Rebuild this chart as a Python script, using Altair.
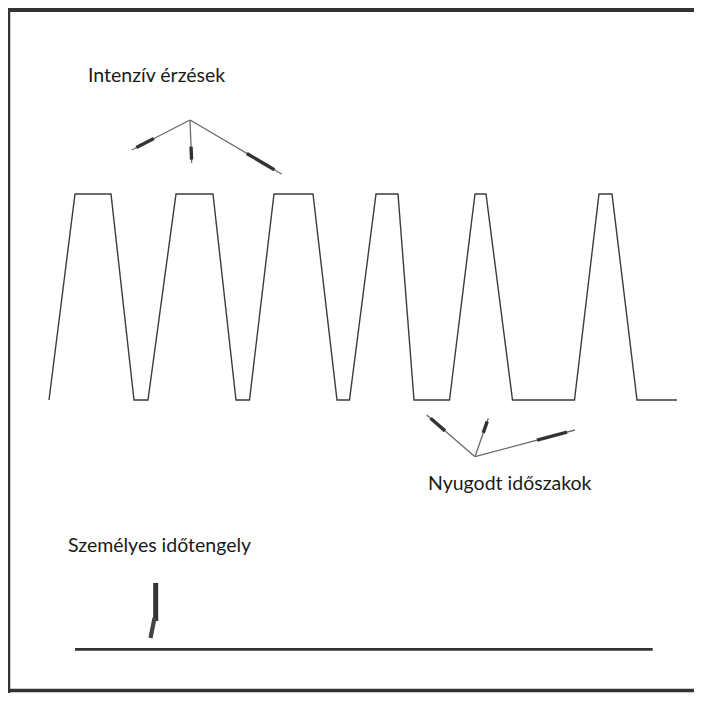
import altair as alt
import pandas as pd

# ---- diagram values (page-like coordinate units) ----
# emotional wave: alternating intense plateaus (top) and calm periods (bottom)
wave_x = [49, 75, 111, 134, 148, 176, 213, 236, 249.5, 274, 313, 337, 349.5,
          376, 398, 414, 449.5, 475, 486, 512.5, 574.5, 599, 612, 637, 677]
wave_y = [400, 194, 194, 400, 400, 194, 194, 400, 400, 194, 194, 400, 400,
          194, 194, 400, 400, 194, 194, 400, 400, 194, 194, 400, 400]

# annotation arrows: origin -> tip
arrow_x0 = [190, 190, 190, 475, 475, 475]
arrow_y0 = [120, 120, 120, 456.7, 456.7, 456.7]
arrow_x1 = [131.7, 191.7, 281.7, 426.7, 488.3, 575]
arrow_y1 = [150, 163, 174, 415, 418.3, 430]

# labels
label_text = ["Intenzív érzések", "Nyugodt időszakok", "Személyes időtengely"]
label_x = [88, 428, 68]
label_y = [81.5, 490, 552]

# personal timeline axis and its marker arrow
timeline_x = [75, 652.7]
timeline_y = [649.3, 649.3]
marker_x = [155.7, 155.7]
marker_y = [583, 621]
marker_head_x = [154.5, 150.5]
marker_head_y = [618, 638]

# outer frame
frame_x = [8, 702]
frame_top = 10
frame_bottom = 690.5

W, H = 686, 685
xs = alt.Scale(domain=[8, 8 + W], nice=False, zero=False)
ys = alt.Scale(domain=[8, 8 + H], nice=False, zero=False, reverse=True)

# ---- build tables ----
wave = pd.DataFrame({"x": wave_x, "y": wave_y, "i": range(len(wave_x))})

segs = []
# frame
segs.append(dict(x=frame_x[0], y=frame_top, x2=frame_x[1], y2=frame_top, w=4, c="#333333"))
segs.append(dict(x=frame_x[0], y=frame_top, x2=frame_x[0], y2=frame_bottom + 3, w=4.5, c="#333333"))
segs.append(dict(x=frame_x[0], y=frame_bottom, x2=frame_x[1], y2=frame_bottom, w=3.5, c="#333333"))
# arrows
for x0, y0, x1, y1 in zip(arrow_x0, arrow_y0, arrow_x1, arrow_y1):
    segs.append(dict(x=x0, y=y0, x2=x1, y2=y1, w=1.3, c="#6a6a6a"))
    fa, fb = 0.62, 0.92
    segs.append(dict(x=x0 + fa * (x1 - x0), y=y0 + fa * (y1 - y0),
                     x2=x0 + fb * (x1 - x0), y2=y0 + fb * (y1 - y0), w=3.4, c="#333333"))
# timeline
segs.append(dict(x=timeline_x[0], y=timeline_y[0], x2=timeline_x[1], y2=timeline_y[1], w=2.7, c="#333333"))
segs.append(dict(x=marker_x[0], y=marker_y[0], x2=marker_x[1], y2=marker_y[1], w=5, c="#333333"))
segs.append(dict(x=marker_head_x[0], y=marker_head_y[0], x2=marker_head_x[1], y2=marker_head_y[1], w=4.2, c="#444444"))
seg_df = pd.DataFrame(segs)

labels = pd.DataFrame({"x": label_x, "y": label_y, "t": label_text})

# ---- layers ----
wave_layer = alt.Chart(wave).mark_line(color="#3c3c3c", strokeWidth=1.4, strokeJoin="miter").encode(
    x=alt.X("x:Q", scale=xs, axis=None),
    y=alt.Y("y:Q", scale=ys, axis=None),
    order="i:Q",
)

seg_layer = alt.Chart(seg_df).mark_rule(strokeCap="butt").encode(
    x=alt.X("x:Q", scale=xs, axis=None),
    y=alt.Y("y:Q", scale=ys, axis=None),
    x2="x2:Q",
    y2="y2:Q",
    strokeWidth=alt.StrokeWidth("w:Q", scale=None),
    color=alt.Color("c:N", scale=None),
)

text_layer = alt.Chart(labels).mark_text(
    align="left", baseline="alphabetic", font="Lato", fontSize=19.5, color="#1a1a1a"
).encode(
    x=alt.X("x:Q", scale=xs, axis=None),
    y=alt.Y("y:Q", scale=ys, axis=None),
    text="t:N",
)

chart = alt.layer(seg_layer, wave_layer, text_layer).properties(
    width=W, height=H, padding=0, autosize=alt.AutoSizeParams(type="none")
).configure_view(stroke=None).configure(background="white")

chart.save("out.html", embed_options={"renderer": "svg", "actions": False})
